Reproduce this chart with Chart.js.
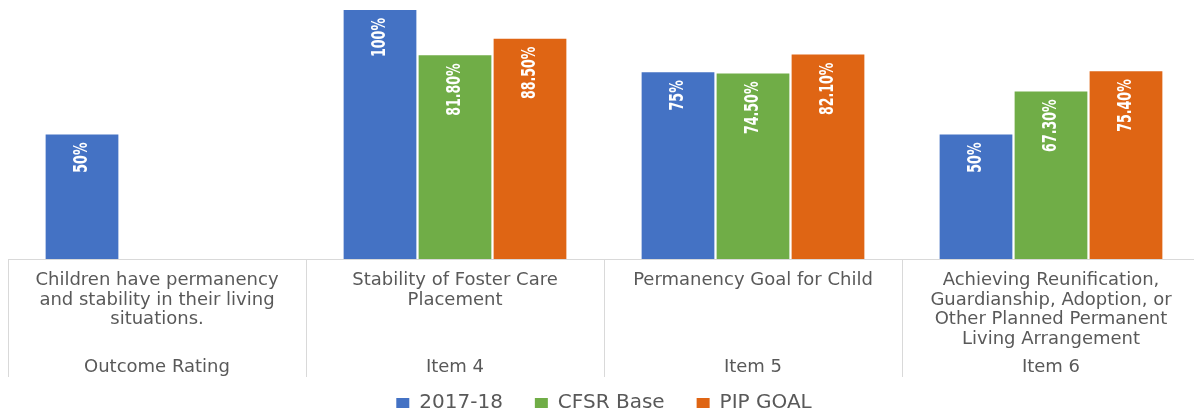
<!DOCTYPE html>
<html>
<head>
<meta charset="utf-8">
<script src="https://cdn.jsdelivr.net/npm/chart.js@4.4.1/dist/chart.umd.min.js"></script>
<style>
  html, body { margin: 0; padding: 0; background: #fff; overflow: hidden; }
  #wrap { position: relative; width: 1208px; height: 414px; }
</style>
</head>
<body>
<div id="wrap"><canvas id="chart"></canvas></div>
<script>
  // category text (upper level) and item names (lower level)
  const categories = [
    ['Children have permanency', 'and stability in their living', 'situations.'],
    ['Stability of Foster Care', 'Placement'],
    ['Permanency Goal for Child'],
    ['Achieving Reunification,', 'Guardianship, Adoption, or', 'Other Planned Permanent', 'Living Arrangement']
  ];
  const items = ['Outcome Rating', 'Item 4', 'Item 5', 'Item 6'];

  const seriesNames = ['2017-18', 'CFSR Base', 'PIP GOAL'];
  const values2017 = [50, 100, 75, 50];
  const valuesCfsr = [null, 81.8, 74.5, 67.3];
  const valuesPip = [null, 88.5, 82.1, 75.4];
  const labelDecimals = [0, 2, 2];

  const COLORS = ['#4472C4', '#70AD47', '#DF6514'];
  const TEXT = '#595959';
  const LINE = '#D9D9D9';

  // white rotated value labels inside the bar tops
  const barLabels = {
    id: 'barLabels',
    afterDatasetsDraw(chart) {
      const ctx = chart.ctx;
      chart.data.datasets.forEach((ds, di) => {
        const meta = chart.getDatasetMeta(di);
        meta.data.forEach((bar, i) => {
          const v = ds.data[i];
          if (v === null || v === undefined) return;
          const text = v.toFixed(labelDecimals[di]) + '%';
          ctx.save();
          ctx.translate(bar.x, bar.y + 8);
          ctx.scale(1.35, 1);
          ctx.rotate(-Math.PI / 2);
          ctx.font = 'bold 14px "DejaVu Sans Condensed", "DejaVu Sans"';
          ctx.fillStyle = '#fff';
          ctx.textAlign = 'right';
          ctx.textBaseline = 'middle';
          ctx.fillText(text, 0, 0);
          ctx.restore();
        });
      });
    }
  };

  // second label row (item names) and the vertical separators between groups
  const groupRows = {
    id: 'groupRows',
    afterDraw(chart) {
      const xs = chart.scales.x;
      const ctx = chart.ctx;
      const n = xs.getLabels().length;
      const half = xs.width / n / 2;
      const top = chart.chartArea.bottom;
      ctx.save();
      ctx.strokeStyle = LINE;
      ctx.lineWidth = 1;
      for (let i = 0; i <= n; i++) {
        const x = Math.round(i < n ? xs.getPixelForValue(i) - half : xs.getPixelForValue(n - 1) + half) + 0.5;
        ctx.beginPath();
        ctx.moveTo(x, top);
        ctx.lineTo(x, top + 118);
        ctx.stroke();
      }
      ctx.font = '18px "DejaVu Sans"';
      ctx.fillStyle = TEXT;
      ctx.textAlign = 'center';
      ctx.textBaseline = 'middle';
      items.forEach((item, i) => {
        ctx.fillText(item, xs.getPixelForValue(i), top + 108);
      });
      ctx.restore();
    }
  };

  const seriesValues = [values2017, valuesCfsr, valuesPip];

  new Chart(document.getElementById('chart'), {
    type: 'bar',
    data: {
      labels: categories,
      datasets: seriesNames.map((name, i) => ({
        label: name,
        data: seriesValues[i],
        backgroundColor: COLORS[i],
        borderWidth: 0,
        categoryPercentage: 0.755,
        barPercentage: 0.97
      }))
    },
    options: {
      responsive: true,
      maintainAspectRatio: false,
      animation: false,
      layout: { padding: { left: 8, right: 8, top: 10, bottom: -9 } },
      plugins: {
        legend: {
          position: 'bottom',
          labels: {
            color: TEXT,
            font: { family: '"DejaVu Sans"', size: 20 },
            boxWidth: 13,
            boxHeight: 10,
            padding: 32
          }
        },
        tooltip: { enabled: false }
      },
      scales: {
        x: {
          position: 'bottom',
          grid: { display: false, drawTicks: false },
          border: { display: true, color: LINE, width: 1 },
          ticks: {
            color: TEXT,
            font: { family: '"DejaVu Sans"', size: 18, lineHeight: '19.5px' },
            padding: 12,
            maxRotation: 0,
            autoSkip: false
          }
        },
        y: {
          display: false,
          min: 0,
          max: 100
        }
      }
    },
    plugins: [barLabels, groupRows]
  });
</script>
</body>
</html>
